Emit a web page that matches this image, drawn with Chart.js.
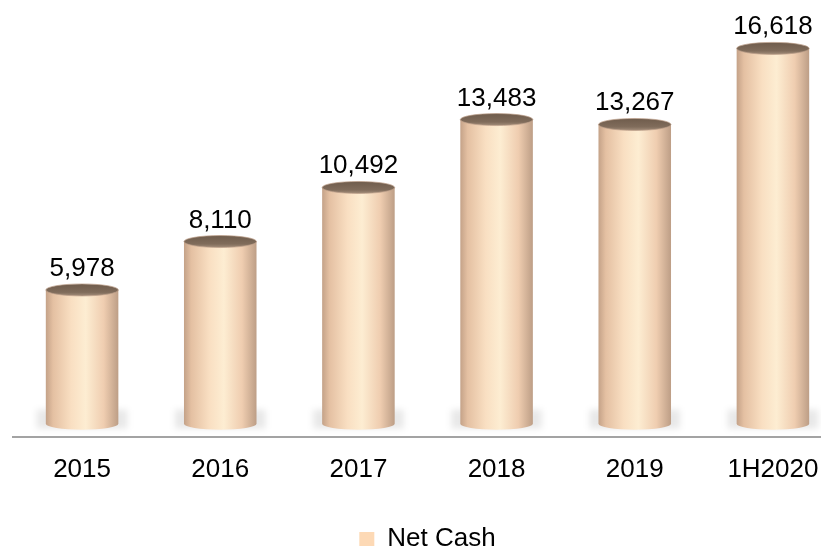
<!DOCTYPE html>
<html>
<head>
<meta charset="utf-8">
<script src="https://cdn.jsdelivr.net/npm/chart.js@4.4.1/dist/chart.umd.min.js"></script>
<style>
    html, body { margin: 0; padding: 0; background: #fff; overflow: hidden; }
    #wrap { width: 855px; height: 551px; }
</style>
</head>
<body>
<div id="wrap"><canvas id="barChart" width="855" height="551"></canvas></div>
<script>
var labels = ['2015', '2016', '2017', '2018', '2019', '1H2020'];
var netCash = [5978, 8110, 10492, 13483, 13267, 16618];

var FONT = '"Liberation Sans", Arial, sans-serif';

// bars are drawn as cylinders instead of flat rectangles
var cylinderPlugin = {
    id: 'cylinders',
    beforeDatasetDraw: function () {
        return false;
    },
    afterDatasetsDraw: function (chart) {
        var ctx = chart.ctx;
        var meta = chart.getDatasetMeta(0);
        var ry = 6;

        meta.data.forEach(function (bar, i) {
            var x = bar.x, top = bar.y, base = bar.base - 2;
            var rx = bar.width / 2;
            var left = x - rx, right = x + rx;

            // soft floor shadow
            ctx.save();
            ctx.filter = 'blur(3px)';
            ctx.fillStyle = 'rgba(0,0,0,0.09)';
            ctx.fillRect(left - 9, base - 14, bar.width + 18, 19);
            ctx.restore();

            // body
            var g = ctx.createLinearGradient(left, 0, right, 0);
            g.addColorStop(0, '#c4a288');
            g.addColorStop(0.1, '#e4c0a2');
            g.addColorStop(0.35, '#f9dfc2');
            g.addColorStop(0.55, '#fdedd2');
            g.addColorStop(0.8, '#efcdb0');
            g.addColorStop(1, '#bd9e86');
            ctx.save();
            ctx.beginPath();
            ctx.moveTo(left, top);
            ctx.lineTo(left, base);
            ctx.ellipse(x, base, rx, ry, 0, Math.PI, 0, true);
            ctx.lineTo(right, top);
            ctx.closePath();
            ctx.fillStyle = g;
            ctx.fill();

            // top cap
            var tg = ctx.createLinearGradient(0, top - ry, 0, top + ry);
            tg.addColorStop(0, '#6f5c4c');
            tg.addColorStop(0.7, '#806c5b');
            tg.addColorStop(1, '#a38d7a');
            ctx.beginPath();
            ctx.ellipse(x, top, rx, ry, 0, 0, Math.PI * 2);
            ctx.fillStyle = tg;
            ctx.fill();
            ctx.strokeStyle = 'rgba(190,160,138,0.7)';
            ctx.lineWidth = 1;
            ctx.stroke();

            // value label
            ctx.fillStyle = '#000';
            ctx.font = '26px ' + FONT;
            ctx.textAlign = 'center';
            ctx.textBaseline = 'alphabetic';
            ctx.fillText(netCash[i].toLocaleString('en-US'), x, top - 14);
            ctx.restore();
        });
    }
};

var barChartCanvas = document.getElementById('barChart').getContext('2d');

new Chart(barChartCanvas, {
    type: 'bar',
    data: {
        labels: labels,
        datasets: [{
            label: 'Net Cash',
            data: netCash,
            backgroundColor: '#fdd9b5',
            borderWidth: 0,
            categoryPercentage: 1,
            barPercentage: 0.525
        }]
    },
    options: {
        responsive: false,
        animation: false,
        layout: { padding: { left: 13, right: 13, top: 0, bottom: -11 } },
        scales: {
            x: {
                grid: { display: false, drawTicks: false },
                border: { display: true, color: '#a3a3a3', width: 2 },
                ticks: {
                    color: '#000',
                    padding: 17,
                    font: { family: FONT, size: 26 }
                },
                afterFit: function (scale) { scale.height = 89; }
            },
            y: {
                display: false,
                min: -500,
                max: 18750
            }
        },
        plugins: {
            tooltip: { enabled: false },
            legend: {
                position: 'bottom',
                labels: {
                    color: '#000',
                    boxWidth: 15,
                    boxHeight: 14,
                    padding: 0,
                    font: { family: FONT, size: 26, lineHeight: 1.0 }
                }
            }
        }
    },
    plugins: [cylinderPlugin]
});
</script>
</body>
</html>
